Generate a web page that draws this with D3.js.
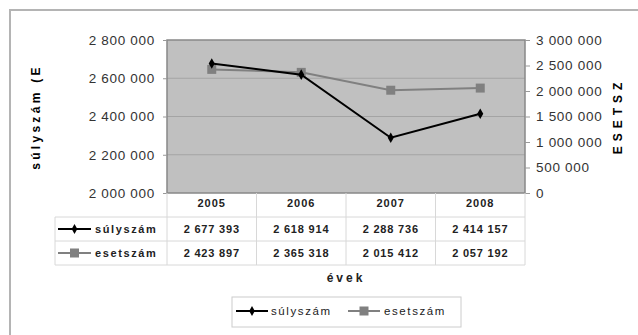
<!DOCTYPE html>
<html>
<head>
<meta charset="utf-8">
<script src="https://cdn.jsdelivr.net/npm/d3@7"></script>
<style>
  body { margin: 0; background: #fff; }
  text { font-family: "Liberation Sans", Arial, sans-serif; }
</style>
</head>
<body>
<div class="canvas"></div>
<script>
// data
const years = ['2005', '2006', '2007', '2008'];
const sulyszam = [2677393, 2618914, 2288736, 2414157];
const esetszam = [2423897, 2365318, 2015412, 2057192];
const leftTicks = [2000000, 2200000, 2400000, 2600000, 2800000];
const rightTicks = [0, 500000, 1000000, 1500000, 2000000, 2500000, 3000000];

const W = 638, H = 335;
const svg = d3.select('.canvas').append('svg')
    .attr('width', W)
    .attr('height', H);

// outer chart border (runs off the right / bottom edge)
svg.append('rect')
    .attr('x', 10).attr('y', 10)
    .attr('width', 640).attr('height', 340)
    .attr('fill', 'none')
    .attr('stroke', '#b4b4b4')
    .attr('stroke-width', 2);

const plot = {left: 167, right: 525, top: 40, bottom: 193};
const rowH = 24;

const x = d3.scaleBand().domain(years).range([plot.left, plot.right]);
const yL = d3.scaleLinear().domain([2000000, 2800000]).range([plot.bottom, plot.top]);
const yR = d3.scaleLinear().domain([0, 3000000]).range([plot.bottom, plot.top]);

const fmt = d => d3.format(',')(d).replace(/,/g, ' ');

// plot area
svg.append('rect')
    .attr('x', plot.left).attr('y', plot.top)
    .attr('width', plot.right - plot.left)
    .attr('height', plot.bottom - plot.top)
    .attr('fill', '#c0c0c0');

// gridlines
svg.append('g').selectAll('line')
    .data(leftTicks.slice(1, -1))
    .enter().append('line')
    .attr('x1', plot.left).attr('x2', plot.right)
    .attr('y1', d => yL(d)).attr('y2', d => yL(d))
    .attr('stroke', '#a4a4a4').attr('stroke-width', 1);

svg.append('rect')
    .attr('x', plot.left).attr('y', plot.top)
    .attr('width', plot.right - plot.left)
    .attr('height', plot.bottom - plot.top)
    .attr('fill', 'none')
    .attr('stroke', '#888').attr('stroke-width', 1.5);

// axes
const leftAxis = d3.axisLeft(yL).tickValues(leftTicks).tickFormat(fmt).tickSize(4).tickPadding(8);
const rightAxis = d3.axisRight(yR).tickValues(rightTicks).tickFormat(fmt).tickSize(5).tickPadding(6);

const gl = svg.append('g').attr('transform', `translate(${plot.left},0)`).call(leftAxis);
const gr = svg.append('g').attr('transform', `translate(${plot.right},0)`).call(rightAxis);
[gl, gr].forEach(g => {
    g.select('.domain').remove();
    g.selectAll('line').attr('stroke', '#999');
    g.selectAll('text').attr('font-size', 13.5).attr('fill', '#333')
        .attr('letter-spacing', 0.7)
        .attr('font-family', '"Liberation Sans", Arial, sans-serif');
});

// axis titles
svg.append('text')
    .attr('transform', 'translate(40,117) rotate(-90)')
    .attr('text-anchor', 'middle')
    .attr('font-size', 12).attr('font-weight', 'bold')
    .attr('letter-spacing', 3.3)
    .text('súlyszám (E');
svg.append('text')
    .attr('transform', 'translate(622,116) rotate(-90)')
    .attr('text-anchor', 'middle')
    .attr('font-size', 12).attr('font-weight', 'bold')
    .attr('letter-spacing', 5)
    .text('ESETSZ');

// lines
const cx = d => x(d) + x.bandwidth() / 2;
const lineL = d3.line().x((d, i) => cx(years[i])).y(d => yL(d));
const lineR = d3.line().x((d, i) => cx(years[i])).y(d => yR(d));

svg.append('path').datum(esetszam)
    .attr('d', lineR).attr('fill', 'none')
    .attr('stroke', '#808080').attr('stroke-width', 2);
svg.append('g').selectAll('rect')
    .data(esetszam).enter().append('rect')
    .attr('x', (d, i) => cx(years[i]) - 4.5)
    .attr('y', d => yR(d) - 4.5)
    .attr('width', 9).attr('height', 9)
    .attr('fill', '#808080');

svg.append('path').datum(sulyszam)
    .attr('d', lineL).attr('fill', 'none')
    .attr('stroke', '#000').attr('stroke-width', 2);
svg.append('g').selectAll('path')
    .data(sulyszam).enter().append('path')
    .attr('d', d3.symbol().type(d3.symbolDiamond).size(32))
    .attr('transform', (d, i) => `translate(${cx(years[i])},${yL(d)})`)
    .attr('fill', '#000');

// data table
const tbl = svg.append('g');
const gridC = '#d8d8d8';
const tableLeft = 55;
const rowsY = [plot.bottom, plot.bottom + rowH, plot.bottom + 2 * rowH, plot.bottom + 3 * rowH];

// vertical lines
x.domain().concat(['end']).forEach((d, i) => {
    const xx = plot.left + i * x.bandwidth();
    tbl.append('line')
        .attr('x1', xx).attr('x2', xx)
        .attr('y1', plot.bottom).attr('y2', rowsY[3])
        .attr('stroke', gridC);
});
tbl.append('line').attr('x1', tableLeft).attr('x2', tableLeft)
    .attr('y1', rowsY[1]).attr('y2', rowsY[3]).attr('stroke', gridC);
[rowsY[1], rowsY[2], rowsY[3]].forEach(yy => {
    tbl.append('line').attr('x1', tableLeft).attr('x2', plot.right)
        .attr('y1', yy).attr('y2', yy).attr('stroke', gridC);
});

// header years
tbl.selectAll('text.yr').data(years).enter().append('text')
    .attr('class', 'yr')
    .attr('x', d => cx(d)).attr('y', plot.bottom + 14)
    .attr('text-anchor', 'middle')
    .attr('font-size', 11).attr('font-weight', 'bold')
    .attr('letter-spacing', 1).attr('fill', '#222')
    .text(d => d);

const series = [
    {name: 'súlyszám', values: sulyszam, color: '#000', marker: 'diamond'},
    {name: 'esetszám', values: esetszam, color: '#808080', marker: 'square'}
];

function drawKey(g, xs, xe, y, s) {
    g.append('line').attr('x1', xs).attr('x2', xe)
        .attr('y1', y).attr('y2', y)
        .attr('stroke', s.color).attr('stroke-width', 2);
    const m = (xs + xe) / 2;
    if (s.marker === 'diamond') {
        g.append('path')
            .attr('d', d3.symbol().type(d3.symbolDiamond).size(28))
            .attr('transform', `translate(${m},${y})`)
            .attr('fill', s.color);
    } else {
        g.append('rect').attr('x', m - 4.5).attr('y', y - 4.5)
            .attr('width', 9).attr('height', 9).attr('fill', s.color);
    }
}

series.forEach((s, r) => {
    const yy = rowsY[1 + r] + rowH / 2;
    drawKey(tbl, 58, 91, yy, s);
    tbl.append('text')
        .attr('x', 95).attr('y', yy + 4)
        .attr('font-size', 11).attr('font-weight', 'bold')
        .attr('letter-spacing', 1.6).attr('fill', '#222')
        .text(s.name);
    tbl.selectAll(null).data(s.values).enter().append('text')
        .attr('x', (d, i) => cx(years[i])).attr('y', yy + 4)
        .attr('text-anchor', 'middle')
        .attr('font-size', 11).attr('font-weight', 'bold')
        .attr('letter-spacing', 0.8).attr('fill', '#222')
        .text(d => fmt(d));
});

// x axis title
svg.append('text')
    .attr('x', (plot.left + plot.right) / 2).attr('y', 282)
    .attr('text-anchor', 'middle')
    .attr('font-size', 12).attr('font-weight', 'bold')
    .attr('letter-spacing', 3).attr('fill', '#222')
    .text('évek');

// legend
const leg = svg.append('g');
leg.append('rect')
    .attr('x', 232).attr('y', 297)
    .attr('width', 229).attr('height', 30)
    .attr('fill', '#fff').attr('stroke', '#ccc');
drawKey(leg, 236, 268, 311, series[0]);
leg.append('text').attr('x', 271).attr('y', 315)
    .attr('font-size', 11.5).attr('letter-spacing', 1.6).attr('fill', '#222')
    .text(series[0].name);
drawKey(leg, 348, 380, 311, series[1]);
leg.append('text').attr('x', 384).attr('y', 315)
    .attr('font-size', 11.5).attr('letter-spacing', 1.6).attr('fill', '#222')
    .text(series[1].name);
</script>
</body>
</html>
